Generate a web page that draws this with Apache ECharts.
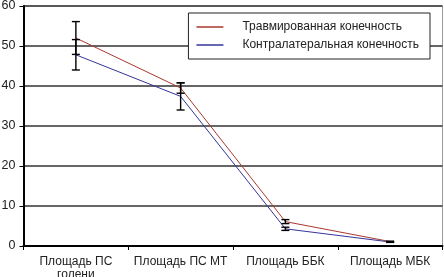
<!DOCTYPE html>
<html>
<head>
<meta charset="utf-8">
<script src="https://cdn.jsdelivr.net/npm/echarts@6/dist/echarts.min.js"></script>
<style>
  html, body { margin: 0; padding: 0; background: #fff; }
  #chart { width: 444px; height: 277px; }
</style>
</head>
<body>
<div id="chart"></div>
<script>
// Категории по оси X
var categories = ['Площадь ПС\nголени', 'Площадь ПС МТ', 'Площадь ББК', 'Площадь МБК'];
var seriesNames = ['Травмированная конечность', 'Контралатеральная конечность'];

// средние значения
var injured = [52.0, 39.5, 6.1, 1.1];
var contra = [47.8, 37.4, 4.3, 1.0];
// отклонения (усы)
var injuredSd = [4.1, 1.3, 0.5, 0.1];
var contraSd = [3.8, 3.4, 0.4, 0.1];

var yTicks = [0, 10, 20, 30, 40, 50, 60];

var redColor = '#a8392f';
var blueColor = '#34349a';

function errorData(values, sd) {
    return values.map(function (v, i) {
        return [i, v - sd[i], v + sd[i]];
    });
}

function renderError(params, api) {
    var x = api.value(0);
    var lo = api.coord([x, api.value(1)]);
    var hi = api.coord([x, api.value(2)]);
    var half = 4;
    var style = { stroke: '#000', lineWidth: 1.4 };
    return {
        type: 'group',
        children: [
            { type: 'line', shape: { x1: hi[0], y1: hi[1], x2: lo[0], y2: lo[1] }, style: style },
            { type: 'line', shape: { x1: hi[0] - half, y1: hi[1], x2: hi[0] + half, y2: hi[1] }, style: style },
            { type: 'line', shape: { x1: lo[0] - half, y1: lo[1], x2: lo[0] + half, y2: lo[1] }, style: style }
        ]
    };
}

var chart = echarts.init(document.getElementById('chart'));

var option = {
    animation: false,
    backgroundColor: '#fff',
    textStyle: { fontFamily: 'Liberation Sans, Arial, sans-serif' },
    grid: {
        left: 23.5,
        right: 1.5,
        top: 6,
        bottom: 31,
        outerBoundsMode: 'none',
        containLabel: false,
        show: true,
        borderColor: '#999',
        borderWidth: 1
    },
    legend: {
        right: 14,
        top: 13,
        orient: 'vertical',
        data: seriesNames,
        backgroundColor: '#fff',
        borderColor: '#222',
        borderWidth: 1,
        padding: [7, 11, 7, 8],
        itemGap: 4,
        itemWidth: 27,
        itemHeight: 1.5,
        icon: 'rect',
        textStyle: { fontSize: 12, color: '#222', lineHeight: 14, padding: [0, 0, 0, 14] }
    },
    xAxis: {
        type: 'category',
        data: categories,
        boundaryGap: true,
        axisLine: { lineStyle: { color: '#000', width: 2 } },
        axisTick: { show: true, length: 4, inside: false, lineStyle: { color: '#000' } },
        axisLabel: { fontSize: 12, color: '#222', margin: 9, lineHeight: 13, interval: 0 },
        splitLine: { show: false }
    },
    yAxis: {
        type: 'value',
        min: 0,
        max: 60,
        interval: 10,
        axisLine: { show: true, lineStyle: { color: '#000', width: 2 } },
        axisTick: { show: true, length: 4, lineStyle: { color: '#000' } },
        axisLabel: {
            fontSize: 12.5, color: '#222', margin: 8,
            formatter: function (v) { return yTicks.indexOf(v) >= 0 ? String(v) : ''; }
        },
        splitLine: { show: true, lineStyle: { color: '#333', width: 1.6 } }
    },
    series: [
        {
            name: seriesNames[0],
            type: 'line',
            data: injured,
            color: redColor,
            lineStyle: { width: 1, color: redColor },
            showSymbol: false,
            symbol: 'none',
            z: 3
        },
        {
            name: seriesNames[1],
            type: 'line',
            data: contra,
            color: blueColor,
            lineStyle: { width: 1, color: blueColor },
            showSymbol: false,
            symbol: 'none',
            z: 3
        },
        {
            type: 'custom',
            renderItem: renderError,
            data: errorData(injured, injuredSd),
            encode: { x: 0, y: [1, 2] },
            z: 4
        },
        {
            type: 'custom',
            renderItem: renderError,
            data: errorData(contra, contraSd),
            encode: { x: 0, y: [1, 2] },
            z: 4
        }
    ]
};

chart.setOption(option);
</script>
</body>
</html>
